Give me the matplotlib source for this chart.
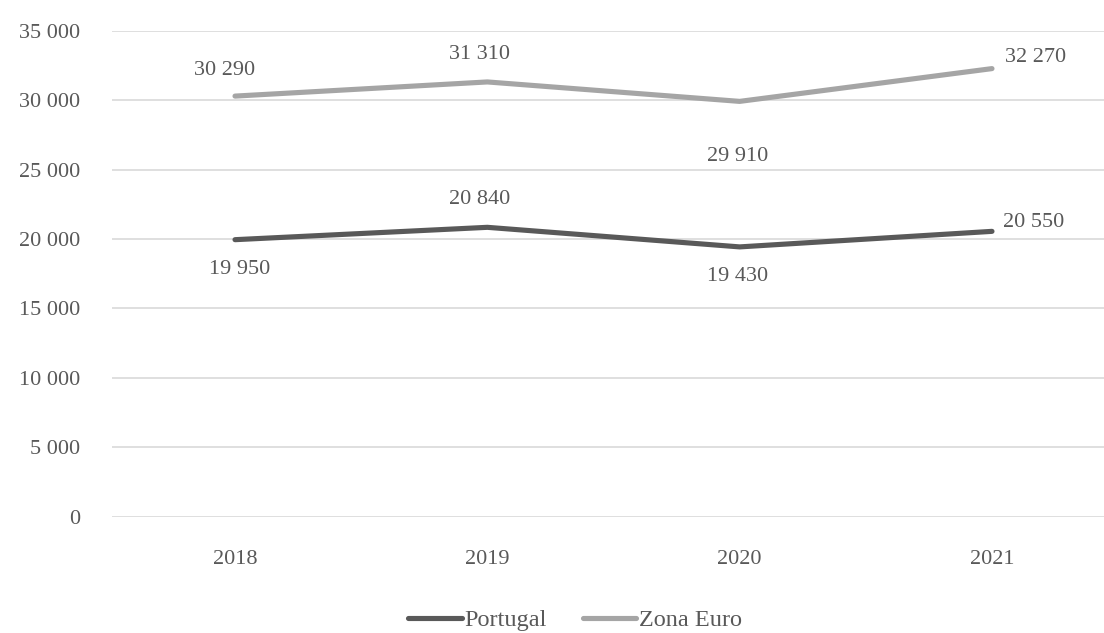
import numpy as np
import matplotlib.pyplot as plt
from matplotlib.ticker import FuncFormatter

years = ['2018', '2019', '2020', '2021']
portugal = [19950, 20840, 19430, 20550]
zona_euro = [30290, 31310, 29910, 32270]

plt.rcParams['font.family'] = ['Liberation Serif', 'DejaVu Serif']

C_PT = '#595959'
C_ZE = '#a5a5a5'
TXT = '#595959'
FS = 16

fig = plt.figure(figsize=(11.04, 6.33), dpi=100)
ax = fig.add_axes([112/1104, 1 - 516.7/633, 1 - 112/1104, (516.7 - 30.7)/633])

x = np.arange(len(years))
ax.plot(x, portugal, color=C_PT, lw=3.7, solid_capstyle='round', label='Portugal', zorder=3)
ax.plot(x, zona_euro, color=C_ZE, lw=3.7, solid_capstyle='round', label='Zona Euro', zorder=3)

def fmt(v):
    return '{:,.0f}'.format(v).replace(',', ' ')

# label offsets in pixels (dx, dy, ha)
off_pt = [(5, -30, 'center'), (-8, 28, 'center'), (-2, -30, 'center'), (11, 9, 'left')]
off_ze = [(-10, 26, 'center'), (-8, 27, 'center'), (-2, -55, 'center'), (13, 11, 'left')]
for vals, offs in ((portugal, off_pt), (zona_euro, off_ze)):
    for i, v in enumerate(vals):
        dx, dy, ha = offs[i]
        ax.annotate(fmt(v), (x[i], v), xytext=(dx, dy), textcoords='offset pixels',
                    ha=ha, va='center', fontsize=FS, color=TXT)

ax.set_xlim(-123/252.3, 3 + 112/252.3)
ax.set_ylim(0, 35000)
ax.set_yticks(np.arange(0, 35001, 5000))
ax.yaxis.set_major_formatter(FuncFormatter(lambda v, p: fmt(v)))
ax.set_xticks(x)
ax.set_xticklabels(years)
ax.grid(axis='y', color='#d9d9d9', lw=1.2)
ax.set_axisbelow(True)
for s in ax.spines.values():
    s.set_visible(False)
ax.tick_params(axis='both', length=0, labelsize=FS, labelcolor=TXT)
ax.tick_params(axis='y', pad=23)
ax.tick_params(axis='x', pad=24)

fig.legend(loc='center', bbox_to_anchor=(575/1104, 13/633), ncol=2, frameon=False,
           fontsize=17.5, handlelength=2.2, handletextpad=0.1, columnspacing=1.5,
           labelcolor=TXT)

fig.savefig('out.png', dpi=100)
